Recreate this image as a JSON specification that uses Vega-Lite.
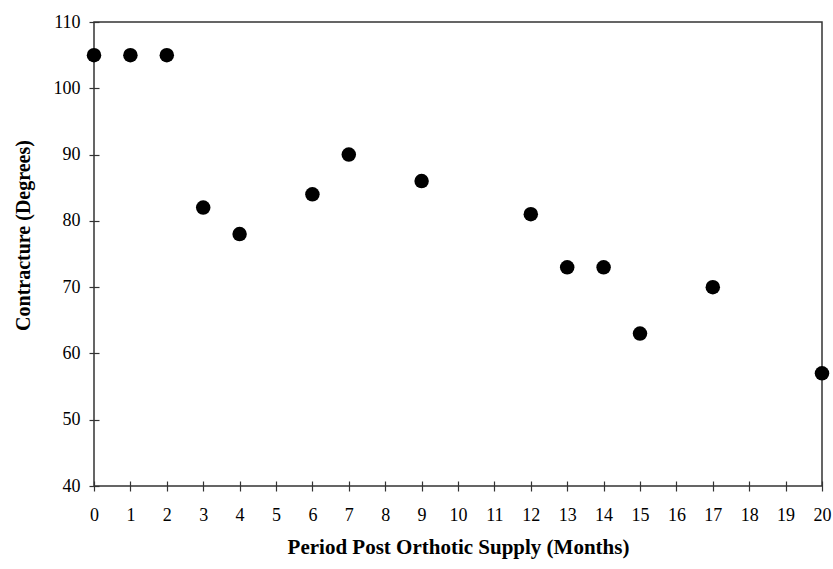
{
  "$schema": "https://vega.github.io/schema/vega-lite/v6.json",
  "width": 728,
  "height": 464,
  "autosize": {"type": "none"},
  "padding": {"left": 94, "top": 22, "right": 11, "bottom": 83},
  "background": "white",
  "config": {
    "view": {"stroke": "#333", "strokeWidth": 1.5},
    "font": "Liberation Serif"
  },
  "data": {
    "values": [
      {"month": 0, "deg": 105},
      {"month": 1, "deg": 105},
      {"month": 2, "deg": 105},
      {"month": 3, "deg": 82},
      {"month": 4, "deg": 78},
      {"month": 6, "deg": 84},
      {"month": 7, "deg": 90},
      {"month": 9, "deg": 86},
      {"month": 12, "deg": 81},
      {"month": 13, "deg": 73},
      {"month": 14, "deg": 73},
      {"month": 15, "deg": 63},
      {"month": 17, "deg": 70},
      {"month": 20, "deg": 57}
    ]
  },
  "mark": {"type": "point", "filled": true, "color": "black", "opacity": 1, "size": 210},
  "encoding": {
    "x": {
      "field": "month",
      "type": "quantitative",
      "scale": {"domain": [0, 20], "nice": false, "zero": false},
      "axis": {
        "title": "Period Post Orthotic Supply (Months)",
        "values": [0,1,2,3,4,5,6,7,8,9,10,11,12,13,14,15,16,17,18,19,20],
        "grid": false,
        "domain": false,
        "offset": -5,
        "tickSize": 10,
        "tickColor": "#333",
        "tickWidth": 1.2,
        "labelFont": "Liberation Serif",
        "labelFontSize": 18,
        "labelColor": "black",
        "labelPadding": 15,
        "labelFlush": false,
        "titleFont": "Liberation Serif",
        "titleFontSize": 21,
        "titleFontWeight": "bold",
        "titleColor": "black",
        "titlePadding": 12
      }
    },
    "y": {
      "field": "deg",
      "type": "quantitative",
      "scale": {"domain": [40, 110], "nice": false, "zero": false},
      "axis": {
        "title": "Contracture (Degrees)",
        "values": [40,50,60,70,80,90,100,110],
        "grid": false,
        "domain": false,
        "offset": -5,
        "tickSize": 10,
        "tickColor": "#333",
        "tickWidth": 1.2,
        "labelFont": "Liberation Serif",
        "labelFontSize": 18,
        "labelColor": "black",
        "labelPadding": 9,
        "labelFlush": false,
        "titleFont": "Liberation Serif",
        "titleFontSize": 20,
        "titleFontWeight": "bold",
        "titleColor": "black",
        "titlePadding": 20,
        "titleY": 213
      }
    }
  }
}
